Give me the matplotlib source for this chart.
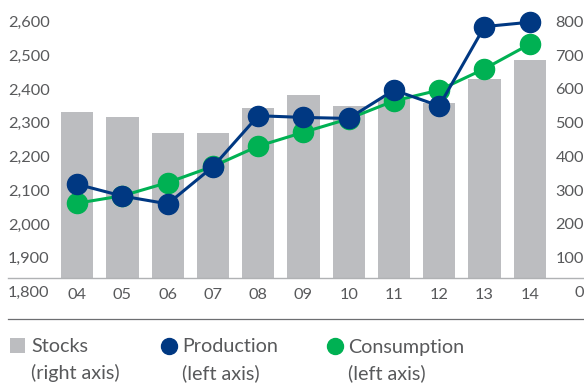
import matplotlib.pyplot as plt
import matplotlib.transforms as mtransforms
from matplotlib.lines import Line2D
from matplotlib.patches import Rectangle

years = ["04", "05", "06", "07", "08", "09", "10", "11", "12", "13", "14"]
stocks = [536, 521, 474, 474, 548, 587, 554, 579, 563, 634, 690]
production = [2122, 2087, 2064, 2174, 2325, 2320, 2317, 2401, 2354, 2589, 2602]
consumption = [2066, 2088, 2127, 2175, 2235, 2276, 2316, 2369, 2401, 2464, 2537]
left_ticks = [1800, 1900, 2000, 2100, 2200, 2300, 2400, 2500, 2600]
right_ticks = [0, 100, 200, 300, 400, 500, 600, 700, 800]

GRAY = "#bcbdc0"
BLUE = "#003882"
GREEN = "#00b153"
TEXT = "#58595b"

plt.rcParams["font.family"] = ["Lato", "DejaVu Sans"]
plt.rcParams["font.size"] = 11.8

fig = plt.figure(figsize=(5.84, 3.83), dpi=100)
W, H = 584, 383
ax = fig.add_axes([8 / W, (H - 278) / H, 576 / W, 273 / H])
ax2 = ax.twinx()

x = list(range(len(years)))
ax2.bar(x, stocks, width=0.71, color=GRAY, zorder=1)
ax.plot(x, consumption, color=GREEN, lw=2.2, marker="o", ms=14.5, zorder=3)
ax.plot(x, production, color=BLUE, lw=2.2, marker="o", ms=14.5, zorder=4)

# line axis in front of the bar axis
ax.set_zorder(ax2.get_zorder() + 1)
ax.patch.set_visible(False)

lo, hi = 1844.4, 2653
ax.set_ylim(lo, hi)
ax2.set_ylim(lo - 1800, hi - 1800)
ax.set_xlim(-1.53, 11.2)

for a in (ax, ax2):
    for s in a.spines.values():
        s.set_visible(False)
    a.set_yticks([])
ax.spines["bottom"].set_visible(True)
ax.spines["bottom"].set_color("#b0b2b4")
ax.spines["bottom"].set_linewidth(1.0)

ax.set_xticks(x)
ax.set_xticklabels(years, color=TEXT)
ax.tick_params(axis="x", length=0, pad=7)

bl = mtransforms.blended_transform_factory(ax.transAxes, ax.transData)
for v in left_ticks:
    ax.text(0.0, v, f"{v:,}", transform=bl, ha="left", va="center",
            color=TEXT, clip_on=False)
br = mtransforms.blended_transform_factory(ax2.transAxes, ax2.transData)
for v in right_ticks:
    ax2.text(1.0, v, f"{v}", transform=br, ha="right", va="center",
             color=TEXT, clip_on=False)

# legend area
fig.add_artist(Line2D([8 / W, 1.0], [1 - 319 / H, 1 - 319 / H],
                      color="#6d6e71", lw=0.9))
fig.add_artist(Rectangle((10 / W, 1 - 353 / H), 15 / W, 15 / H,
                         color=GRAY, lw=0))
fig.add_artist(Line2D([169 / W], [1 - 346 / H], marker="o", ms=11.5,
                      color=BLUE, lw=0))
fig.add_artist(Line2D([335 / W], [1 - 346 / H], marker="o", ms=11.5,
                      color=GREEN, lw=0))
legend_items = [(31, "Stocks", "(right axis)"),
                (182, "Production", "(left axis)"),
                (348, "Consumption", "(left axis)")]
for px, l1, l2 in legend_items:
    fig.text(px / W, 1 - 347 / H, l1, ha="left", va="center", color=TEXT,
             fontsize=14.2)
    fig.text(px / W, 1 - 373 / H, l2, ha="left", va="center", color=TEXT,
             fontsize=14.2)

fig.savefig("out.png", dpi=100)
